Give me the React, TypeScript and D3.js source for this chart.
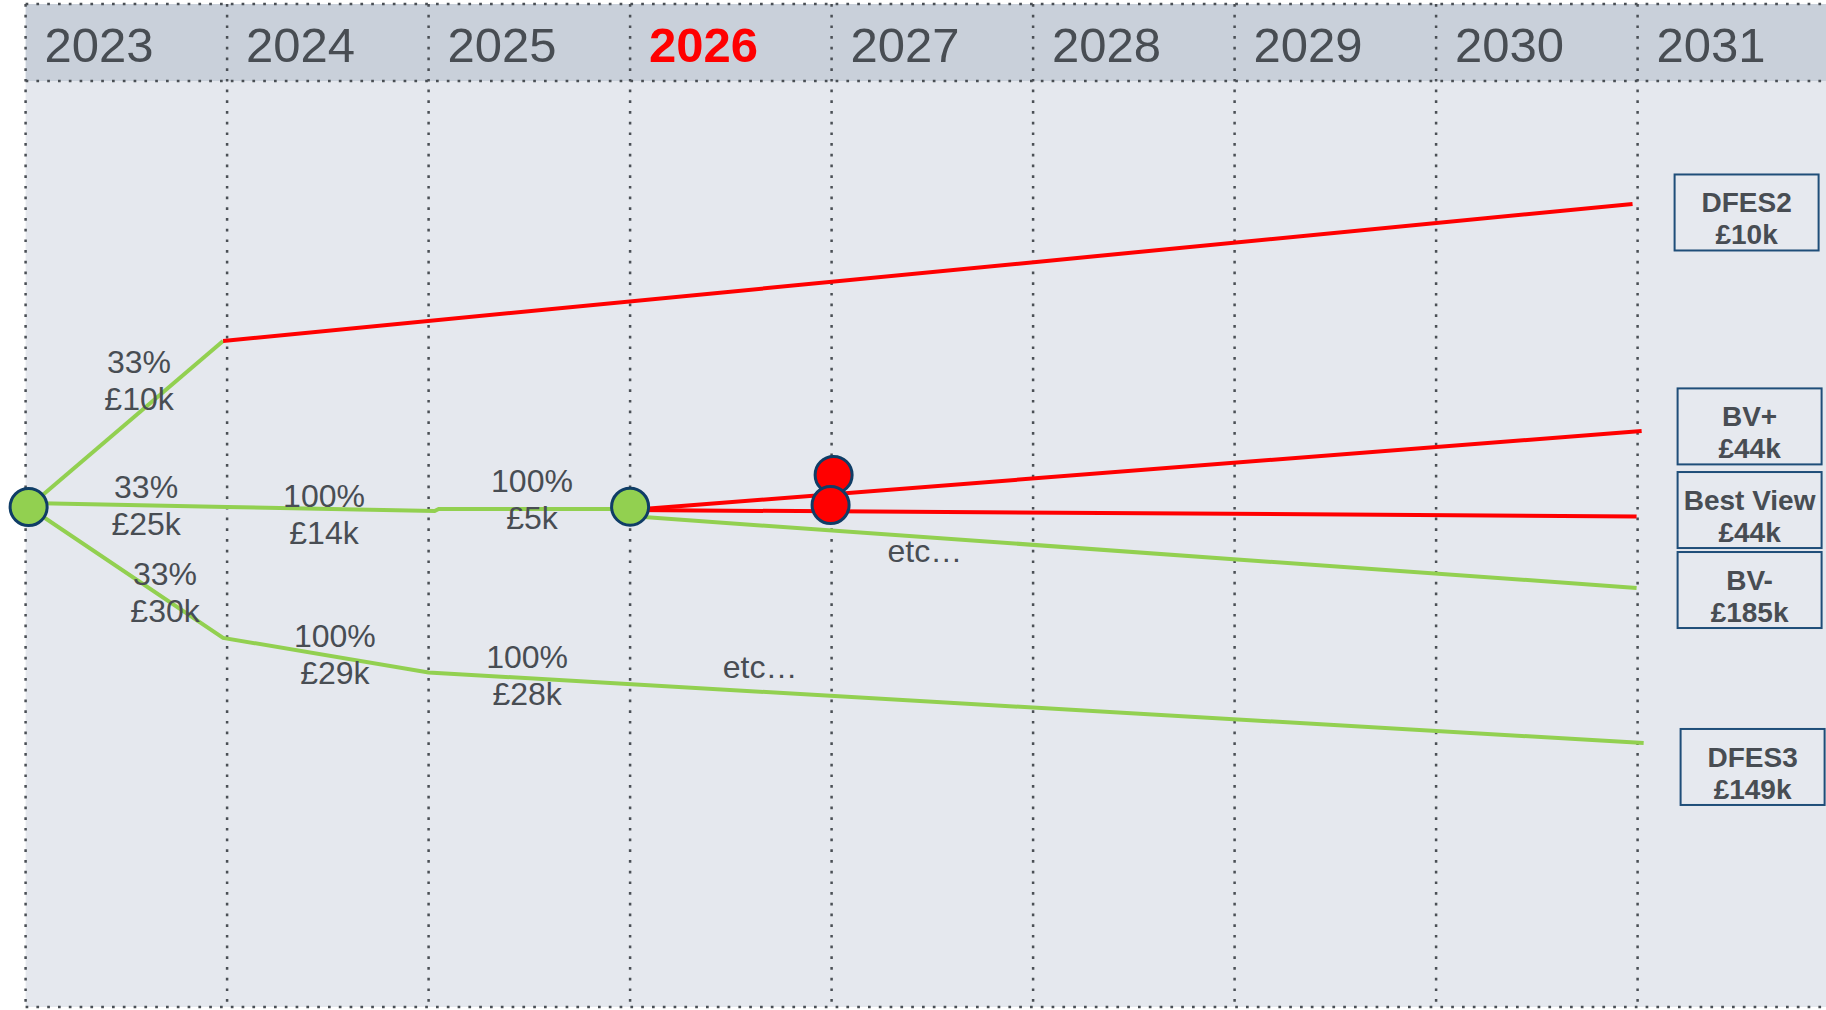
import React from 'react';
import * as d3 from 'd3';

// ---- data ----
const YEARS = [2023, 2024, 2025, 2026, 2027, 2028, 2029, 2030, 2031];
const HIGHLIGHT_YEAR = 2026;

// path points: [year position, scenario level]
const UPPER_GREEN: [number, number][] = [[2023.015, 0], [2023.98, 54.8]];
const DFES2_RED: [number, number][] = [[2023.98, 54.8], [2030.975, 100]];
const MIDDLE_GREEN: [number, number][] = [[2023.015, 1.3], [2024.0, 0], [2025.03, -1.3], [2025.05, -0.66], [2026.0, -0.66]];
const LOWER_GREEN: [number, number][] = [[2023.015, 0], [2023.98, -43.2], [2025.0, -54.6], [2031.03, -77.9]];
const BVPLUS_RED: [number, number][] = [[2026.0, -1.0], [2031.02, 25.1]];
const BEST_RED: [number, number][] = [[2026.0, -1.0], [2030.995, -3.1]];
const BVMINUS_GREEN: [number, number][] = [[2026.0, -3.0], [2030.995, -26.7]];

const GREEN_NODES: [number, number][] = [[2023.015, 0], [2026.0, 0.1]];
const RED_NODES: [number, number][] = [[2027.01, 10.6], [2026.995, 0.66]];

const BRANCH_LABELS: { at: [number, number]; lines: string[] }[] = [
  { at: [2023.563, 44.2], lines: ['33%', '£10k'] },
  { at: [2023.598, 2.97], lines: ['33%', '£25k'] },
  { at: [2024.481, 0], lines: ['100%', '£14k'] },
  { at: [2025.513, 4.95], lines: ['100%', '£5k'] },
  { at: [2023.692, -25.7], lines: ['33%', '£30k'] },
  { at: [2024.535, -46.2], lines: ['100%', '£29k'] },
  { at: [2025.489, -53.1], lines: ['100%', '£28k'] },
  { at: [2027.463, -18.2], lines: ['etc…'] },
  { at: [2026.645, -56.4], lines: ['etc…'] },
];

const SCENARIO_NAMES = ['DFES2', 'BV+', 'Best View', 'BV-', 'DFES3'];
const SCENARIO_COSTS = ['£10k', '£44k', '£44k', '£185k', '£149k'];
const SCENARIO_LEVELS = [97.2, 26.6, -1.0, -27.4, -85.8];

// ---- layout / styles ----
const BOX_SHIFT = [-3, 0, 0, 0, 3];
const GREEN = '#92d050';
const RED = '#ff0000';
const NAVY = '#0f3d66';
const TEXT = '#484d53';
const DOT = '#4a4f55';
const FONT = '"Liberation Sans", Arial, sans-serif';

export default function App() {
  const W = 1826;
  const H = 1010;
  const left = 25.6;
  const step = 201.5;
  const top = 4;
  const headerBottom = 81;
  const bottom = 1007;

  const x = d3.scaleLinear().domain([2023, 2024]).range([left, left + step]);
  const y = d3.scaleLinear().domain([0, 100]).range([507, 204]);
  const line = d3
    .line<[number, number]>()
    .x((d) => x(d[0]))
    .y((d) => y(d[1]));

  const greenPaths = [UPPER_GREEN, MIDDLE_GREEN, LOWER_GREEN, BVMINUS_GREEN];
  const redPaths = [DFES2_RED, BVPLUS_RED, BEST_RED];

  const boxW = 144;
  const boxH = 76;
  const boxLeft = x(2031) + 40;

  return (
    <svg
      width={W}
      height={H}
      style={{ position: 'absolute', left: 0, top: 0, display: 'block' }}
      fontFamily={FONT}
    >
      <rect x={0} y={0} width={W} height={H} fill="#ffffff" />
      <rect x={left} y={top} width={W - left} height={headerBottom - top} fill="#c9d0da" />
      <rect x={left} y={headerBottom} width={W - left} height={bottom - headerBottom} fill="#e5e8ee" />

      {/* horizontal dotted lines */}
      {[top, headerBottom, bottom].map((yy, i) => (
        <line
          key={'h' + i}
          x1={left}
          x2={W}
          y1={yy}
          y2={yy}
          stroke={DOT}
          strokeWidth={2.5}
          strokeDasharray="2.7 8.1"
        />
      ))}
      {/* vertical dotted lines */}
      {YEARS.map((yr) => (
        <line
          key={'v' + yr}
          x1={x(yr)}
          x2={x(yr)}
          y1={top}
          y2={bottom}
          stroke={DOT}
          strokeWidth={2.5}
          strokeDasharray="2.7 8"
        />
      ))}

      {/* year labels */}
      {YEARS.map((yr) => (
        <text
          key={'t' + yr}
          x={x(yr) + 19}
          y={62}
          fontSize={49}
          fontWeight={yr === HIGHLIGHT_YEAR ? 'bold' : 'normal'}
          fill={yr === HIGHLIGHT_YEAR ? RED : TEXT}
        >
          {yr}
        </text>
      ))}

      {/* paths */}
      {greenPaths.map((p, i) => (
        <path key={'g' + i} d={line(p) || ''} fill="none" stroke={GREEN} strokeWidth={4} strokeLinejoin="miter" />
      ))}
      {redPaths.map((p, i) => (
        <path key={'r' + i} d={line(p) || ''} fill="none" stroke={RED} strokeWidth={4} />
      ))}

      {/* nodes */}
      {GREEN_NODES.map((n, i) => (
        <circle key={'gn' + i} cx={x(n[0])} cy={y(n[1])} r={18.5} fill={GREEN} stroke={NAVY} strokeWidth={3} />
      ))}
      {RED_NODES.map((n, i) => (
        <circle key={'rn' + i} cx={x(n[0])} cy={y(n[1])} r={18.5} fill={RED} stroke={NAVY} strokeWidth={3} />
      ))}

      {/* branch labels */}
      {BRANCH_LABELS.map((l, i) => (
        <text key={'bl' + i} x={x(l.at[0])} y={y(l.at[1])} fontSize={32} fill={TEXT} textAnchor="middle">
          {l.lines.map((s, j) => (
            <tspan key={j} x={x(l.at[0])} dy={j === 0 ? 0 : 37}>
              {s}
            </tspan>
          ))}
        </text>
      ))}

      {/* scenario boxes */}
      {SCENARIO_NAMES.map((name, i) => {
        const cy = y(SCENARIO_LEVELS[i]);
        const bt = cy - boxH / 2;
        const bl = boxLeft + BOX_SHIFT[i];
        const cx = bl + boxW / 2;
        return (
          <g key={'box' + i}>
            <rect x={bl} y={bt} width={boxW} height={boxH} fill="#e6e9ef" stroke="#1f4e79" strokeWidth={2} />
            <text x={cx} y={bt + 38} fontSize={28} fontWeight="bold" fill={TEXT} textAnchor="middle">
              {name}
            </text>
            <text x={cx} y={bt + 70} fontSize={28} fontWeight="bold" fill={TEXT} textAnchor="middle">
              {SCENARIO_COSTS[i]}
            </text>
          </g>
        );
      })}
    </svg>
  );
}
